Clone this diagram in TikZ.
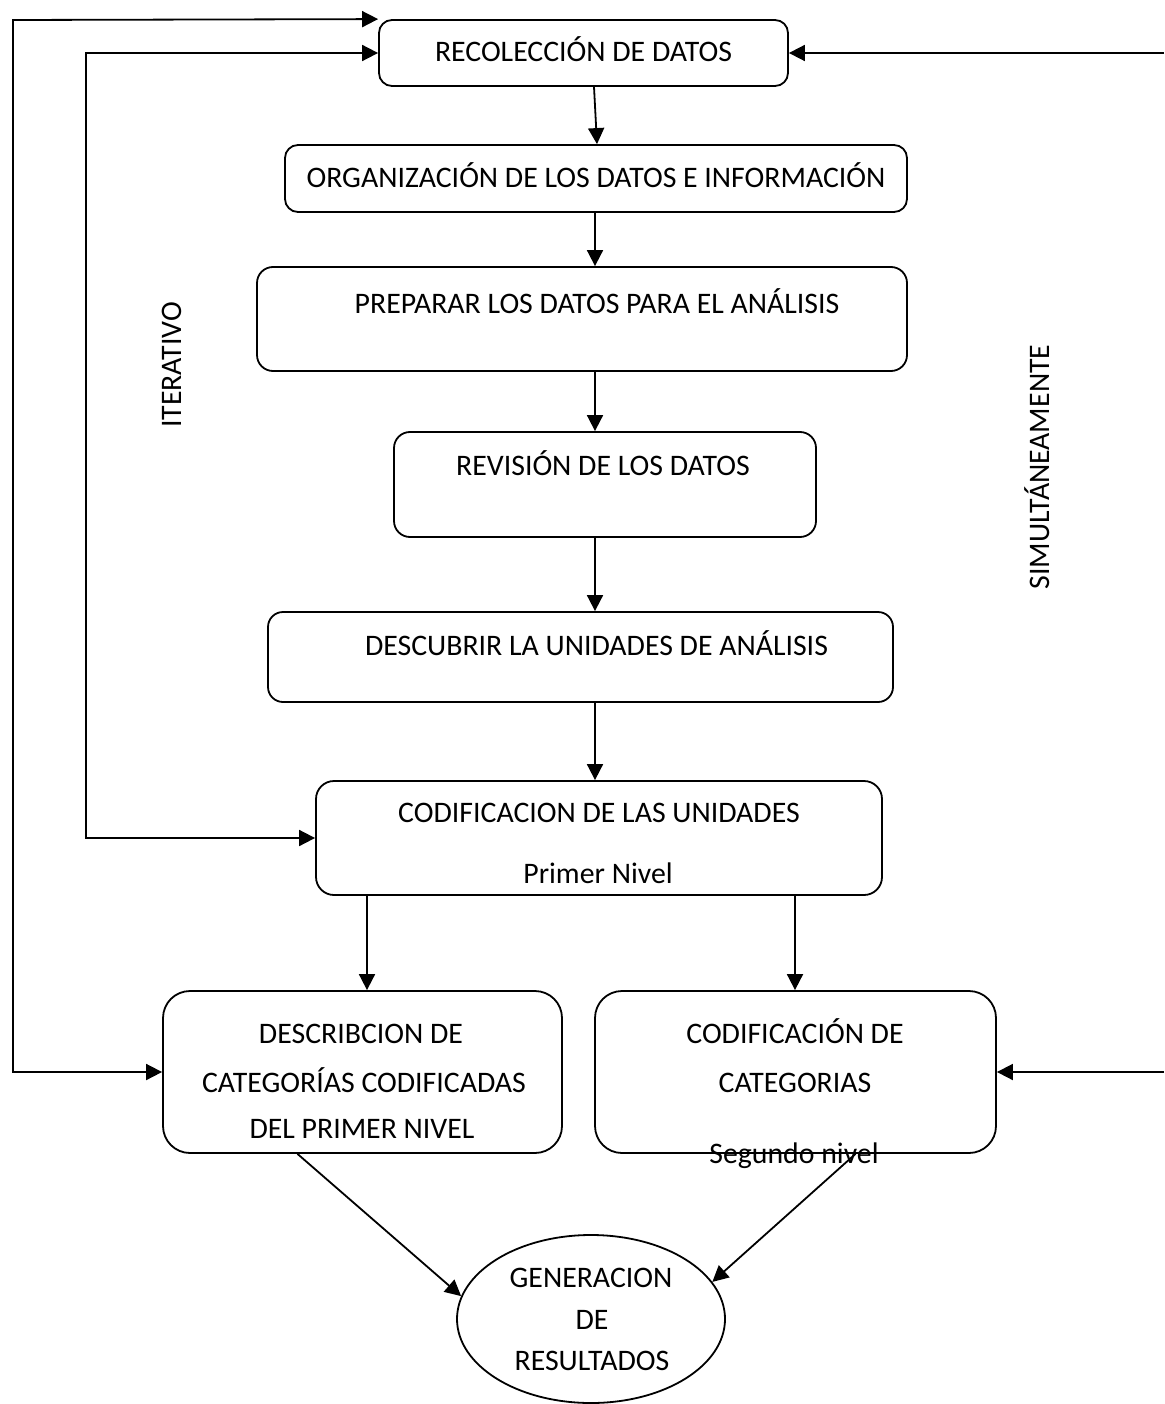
\documentclass[tikz,border=0pt]{standalone}
\usepackage{fontspec}
\setmainfont{Carlito}
\usetikzlibrary{arrows.meta,calc,shapes.geometric}
\begin{document}
\begin{tikzpicture}[x=1pt,y=-1pt,
 box/.style={draw,line width=1.8pt,inner sep=0pt,rectangle},
 lbl/.style={inner sep=0pt,anchor=base,font=\fontsize{29.8}{35}\selectfont},
 rlbl/.style={inner sep=0pt,anchor=center,rotate=90,font=\fontsize{29.8}{35}\selectfont},
 tip/.tip={Triangle[length=16pt,width=16pt]},
 arr/.style={line width=1.8pt,-tip},
 barr/.style={line width=1.8pt,tip-tip}]
\useasboundingbox (0,0) rectangle (1164,1404);
% boxes
\node[box,rounded corners=13pt,minimum width=409pt,minimum height=66pt] (rec) at (583.5,53) {};
\node[box,rounded corners=13pt,minimum width=622pt,minimum height=67pt] (org) at (596,178.5) {};
\node[box,rounded corners=16pt,minimum width=650pt,minimum height=104pt] (prep) at (582,319) {};
\node[box,rounded corners=16pt,minimum width=422pt,minimum height=105pt] (rev) at (605,484.5) {};
\node[box,rounded corners=15pt,minimum width=625pt,minimum height=90pt] (desc) at (580.5,657) {};
\node[box,rounded corners=18pt,minimum width=566pt,minimum height=114pt] (cod) at (599,838) {};
\node[box,rounded corners=27pt,minimum width=399pt,minimum height=162pt] (descr) at (362.5,1072) {};
\node[box,rounded corners=27pt,minimum width=401pt,minimum height=162pt] (codcat) at (795.5,1072) {};
\node[draw,line width=1.8pt,ellipse,inner sep=0pt,minimum width=268pt,minimum height=168pt] (ell) at (591,1319) {};
% texts
\node[lbl] (recT) at (583.5,62) {RECOLECCIÓN DE DATOS};
\node[lbl] (orgT) at (596,188) {ORGANIZACIÓN DE LOS DATOS E INFORMACIÓN};
\node[lbl] (prepT) at (597,313) {PREPARAR LOS DATOS PARA EL ANÁLISIS};
\node[lbl] (revT) at (603,475) {REVISIÓN DE LOS DATOS};
\node[lbl] (descT) at (596.5,655) {DESCUBRIR LA UNIDADES DE ANÁLISIS};
\node[lbl] (codT1) at (599,822) {CODIFICACION DE LAS UNIDADES};
\node[lbl] (codT2) at (598,883) {Primer Nivel};
\node[lbl] (descrT1) at (361,1043) {DESCRIBCION DE};
\node[lbl] (descrT2) at (364,1092) {CATEGORÍAS CODIFICADAS};
\node[lbl] (descrT3) at (362,1138) {DEL PRIMER NIVEL};
\node[lbl] (codcatT1) at (795,1043) {CODIFICACIÓN DE};
\node[lbl] (codcatT2) at (795,1092) {CATEGORIAS};
\node[lbl] (codcatT3) at (794,1163) {Segundo nivel};
\node[lbl] (ellT1) at (591,1287) {GENERACION};
\node[lbl] (ellT2) at (592,1329) {DE};
\node[lbl] (ellT3) at (592,1370) {RESULTADOS};
\node[rlbl] (iter) at (172,365) {ITERATIVO};
\node[rlbl] (simul) at (1037,467) {SIMULTÁNEAMENTE};
% columns
\coordinate (col) at (595,0);
\coordinate (lcol) at (367,0);
\coordinate (rcol) at (795,0);
% vertical arrows
\draw[arr] ($(rec.south)+(10.5,0)$) -- ($(org.north)+(1,0)$);
\draw[arr] (org.south -| col) -- (prep.north -| col);
\draw[arr] (prep.south -| col) -- (rev.north -| col);
\draw[arr] (rev.south -| col) -- (desc.north -| col);
\draw[arr] (desc.south -| col) -- (cod.north -| col);
\draw[arr] (cod.south -| lcol) -- (descr.north -| lcol);
\draw[arr] (cod.south -| rcol) -- (codcat.north -| rcol);
% to ellipse
\draw[arr] ($(descr.south)+(-65,0)$) -- (ell.170);
\draw[arr] ($(codcat.south)+(60,0)$) -- (ell.17);
% loops
\coordinate (ol1) at (13,20);
\coordinate (ol2) at (13,1072);
\draw[barr] (rec.north west) -- (ol1) -- (ol2) -- (descr.west);
\coordinate (il1) at (86,53);
\coordinate (il2) at (86,838);
\draw[barr] (rec.west) -- (il1) -- (il2) -- (cod.west);
\coordinate (r1) at (1164,53);
\coordinate (r2) at (1164,1072);
\draw[arr] (r1) -- (rec.east);
\draw[arr] (r2) -- (codcat.east);
\end{tikzpicture}
\end{document}
